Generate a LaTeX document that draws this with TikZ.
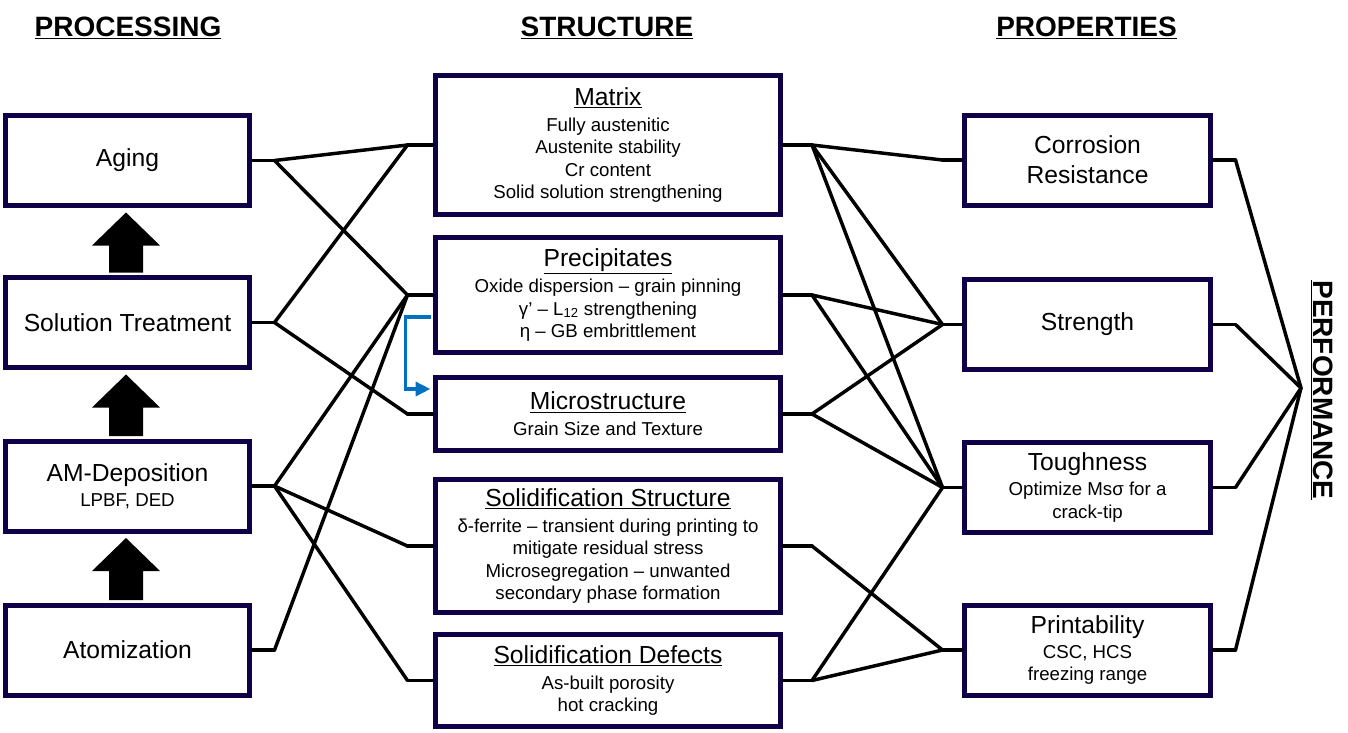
\documentclass[tikz,border=0pt]{standalone}
\usepackage{fontspec}
\setmainfont{Liberation Sans}
\usetikzlibrary{calc,arrows.meta}
\definecolor{boxnavy}{RGB}{16,0,72}
\definecolor{feedblue}{RGB}{0,112,192}
\newcommand{\bigtxt}{\fontsize{18.5}{22.5}\selectfont}
\newcommand{\smalltxt}{\fontsize{14}{16.9}\selectfont}
\newcommand{\headtxt}{\fontsize{21}{25}\selectfont\bfseries}
\begin{document}
\begin{tikzpicture}[x=0.75pt, y=-0.75pt,
	box/.style={draw=boxnavy, line width=3.75pt, fill=white, align=center, inner sep=0pt},
	lbox/.style={box, minimum width=183pt, minimum height=67.5pt},
	mbox/.style={box, minimum width=258.75pt, font=\smalltxt},
	rbox/.style={box, minimum width=184.5pt, minimum height=67.5pt},
	head/.style={font=\headtxt},
	link/.style={line width=2.6pt, line cap=round, line join=round},
	feed/.style={draw=feedblue, line width=2.3pt, -{Triangle[length=11pt,width=10.5pt]}, shorten >=2pt}]
	\fill[white] (0,0) rectangle (1348,732);
	\useasboundingbox (0,0) rectangle (1348,732);
	
	% Tieu de cac cot
	\node[head] (hproc) at (128,28) {\underline{PROCESSING}};
	\node[head] (hstru) at (607,28) {\underline{STRUCTURE}};
	\node[head] (hprop) at (1086.5,28) {\underline{PROPERTIES}};
	\node[head, rotate=-90] (hperf) at (1322,390) {\underline{PERFORMANCE}};
	
	% Cot trai: qua trinh
	\node[lbox, font=\bigtxt] (aging) at (127.5,160.5) {Aging};
	\node[lbox, font=\bigtxt] (solut) at (127.5,322.5) {Solution Treatment};
	\node[lbox, font=\smalltxt] (amdep) at (127.5,486) {{\bigtxt AM-Deposition}\\[1.9pt] LPBF, DED};
	\node[lbox, font=\bigtxt] (atomz) at (127.5,650) {Atomization};
	
	% Cot giua: cau truc
	\node[mbox, minimum height=104.25pt] (mtx) at (608,145) {{\bigtxt\underline{Matrix}}\\[2.6pt] Fully austenitic\\ Austenite stability\\ Cr content\\ Solid solution strengthening};
	\node[mbox, minimum height=86.25pt] (prec) at (608,295) {{\bigtxt\underline{Precipitates}}\\[2.6pt] Oxide dispersion – grain pinning\\ γ’ – L\textsubscript{12} strengthening\\ η – GB embrittlement};
	\node[mbox, minimum height=54.75pt] (micro) at (608,414) {{\bigtxt\underline{Microstructure}}\\[2.6pt] Grain Size and Texture};
	\node[mbox, minimum height=99.75pt] (sstr) at (608,546) {{\bigtxt\underline{Solidification Structure}}\\[2.6pt] δ-ferrite – transient during printing to\\ mitigate residual stress\\ Microsegregation – unwanted\\ secondary phase formation};
	\node[mbox, minimum height=69pt] (sdef) at (608,680.5) {{\bigtxt\underline{Solidification Defects}}\\[2.6pt] As-built porosity\\ hot cracking};
	
	% Cot phai: tinh chat
	\node[rbox, font=\bigtxt] (corr) at (1087.5,160) {Corrosion\\ Resistance};
	\node[rbox, font=\bigtxt] (strg) at (1087.5,324.5) {Strength};
	\node[rbox, font=\smalltxt] (tough) at (1087.5,487.5) {{\bigtxt Toughness}\\[1.9pt] Optimize Msσ for a\\ crack-tip};
	\node[rbox, font=\smalltxt] (print) at (1087.5,650) {{\bigtxt Printability}\\[1.9pt] CSC, HCS\\ freezing range};
	
	% Diem noi
	\foreach \n in {aging,solut,amdep,atomz}
		\path (\n.east) ++(22.5,0) coordinate (\n-r);
	\foreach \n in {mtx,prec,micro,sstr,sdef} {
		\path (\n.west) ++(-25.5,0) coordinate (\n-l);
		\path (\n.east) ++(29,0) coordinate (\n-r);
	}
	\foreach \n in {corr,strg,tough,print} {
		\path (\n.west) ++(-19.5,0) coordinate (\n-l);
		\path (\n.east) ++(22.5,0) coordinate (\n-r);
	}
	\coordinate (perfJ) at (1301,388);
	
	% Doan ngan ra khoi hop
	\foreach \n in {aging,solut,amdep,atomz,mtx,prec,micro,sstr,sdef,corr,strg,tough,print}
		\draw[link] (\n.east) -- (\n-r);
	\foreach \n in {mtx,prec,micro,sstr,sdef,corr,strg,tough,print}
		\draw[link] (\n.west) -- (\n-l);
	
	% Quan he giua cac cot
	\foreach \a/\b in {aging/mtx, aging/prec, solut/mtx, solut/micro, amdep/prec, amdep/sstr, amdep/sdef, atomz/prec}
		\draw[link] (\a-r) -- (\b-l);
	\foreach \a/\b in {mtx/corr, mtx/strg, mtx/tough, prec/strg, prec/tough, micro/strg, micro/tough, sstr/print, sdef/tough, sdef/print}
		\draw[link] (\a-r) -- (\b-l);
	\foreach \n in {corr,strg,tough,print}
		\draw[link] (\n-r) -- (perfJ);
	
	% Mui ten khoi giua cac buoc
	\foreach \a/\b in {atomz/amdep, amdep/solut, solut/aging}
		\fill ($(\a.north)+(-18.5,-2.5)$) -- ($(\b.south)+(-18.5,37.5)$) -- ($(\b.south)+(-35.5,37.5)$) -- ($(\b.south)+(-1.5,4.5)$) -- ($(\b.south)+(32.5,37.5)$) -- ($(\b.south)+(15.5,37.5)$) -- ($(\a.north)+(15.5,-2.5)$) -- cycle;
	
	% Mui ten xanh
	\draw[feed] ($(prec.west)+(-2.5,22)$) -- ++(-25,0) |- ($(micro.west)+(0,-25)$);
\end{tikzpicture}
\end{document}
